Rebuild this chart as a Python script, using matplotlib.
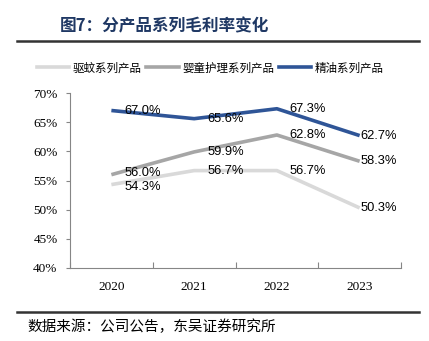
import matplotlib.pyplot as plt
from matplotlib.lines import Line2D

plt.rcParams['font.family'] = ['Noto Sans CJK SC', 'DejaVu Sans']

years = ['2020', '2021', '2022', '2023']
series_names = ['驱蚊系列产品', '婴童护理系列产品', '精油系列产品']
mosquito = [54.3, 56.7, 56.7, 50.3]
baby_care = [56.0, 59.9, 62.8, 58.3]
essential_oil = [67.0, 65.6, 67.3, 62.7]
y_ticks = [40, 45, 50, 55, 60, 65, 70]

colors = ['#d9d9d9', '#a6a6a6', '#2f5597']
label_dx = [13, 13, 13, 1]  # px, Excel pushes last label inward
label_dy = [-1.5, 1.5, 0]   # pt, keeps the 2020 labels of the grey lines apart

fig = plt.figure(figsize=(4.29, 3.41), dpi=100)
ax = fig.add_axes([70 / 429, 1 - 268 / 341, 331 / 429, 175 / 341])

x = list(range(len(years)))
for vals, c, dy in zip([mosquito, baby_care, essential_oil], colors, label_dy):
    ax.plot(x, vals, color=c, lw=2.6, solid_capstyle='butt')
    for i, v in enumerate(vals):
        ax.annotate(f'{v:.1f}%', (i, v), xytext=(label_dx[i] * 0.72, dy if i == 0 else 0),
                    textcoords='offset points', ha='left', va='center',
                    fontsize=9.3, family='Liberation Sans', color='#000000')

ax.set_xlim(-0.5, 3.5)
ax.set_ylim(40, 70)
ax.set_yticks(y_ticks)
ax.set_yticklabels([f'{t}%' for t in y_ticks], family='Liberation Serif', fontsize=9.5)
ax.set_xticks([-0.5, 0.5, 1.5, 2.5, 3.5])
ax.set_xticklabels([])
ax.set_xticks(x, minor=True)
ax.set_xticklabels(years, minor=True, family='Liberation Serif', fontsize=9.5)
ax.tick_params(axis='x', which='minor', length=0, pad=9)
ax.tick_params(axis='x', which='major', length=4, direction='in', color='#868686')
ax.tick_params(axis='y', length=3, direction='out', color='#868686', pad=6)
for s in ['top', 'right']:
    ax.spines[s].set_visible(False)
for s in ['left', 'bottom']:
    ax.spines[s].set_color('#868686')
    ax.spines[s].set_linewidth(0.8)

handles = [Line2D([0], [0], color=c, lw=2.6) for c in colors]
fig.legend(handles, series_names, loc='center', bbox_to_anchor=(0.49, 1 - 68 / 341),
           ncol=3, frameon=False, fontsize=8.3, handlelength=2.8, handletextpad=0.3,
           columnspacing=0.4)

fig.text(60 / 429, 1 - 26 / 341, '图7：分产品系列毛利率变化', fontsize=12, fontweight='bold',
         color='#1f3864', va='center', ha='left')
fig.add_artist(Line2D([17 / 429, 419 / 429], [1 - 41 / 341] * 2, color='#333333', lw=1.8))
fig.add_artist(Line2D([17 / 429, 419 / 429], [1 - 312 / 341] * 2, color='#333333', lw=1.8))
fig.text(27 / 429, 1 - 327 / 341, '数据来源：公司公告，东吴证券研究所', fontsize=10.5,
         color='#000000', va='center', ha='left')

fig.savefig('out.png', dpi=100)
